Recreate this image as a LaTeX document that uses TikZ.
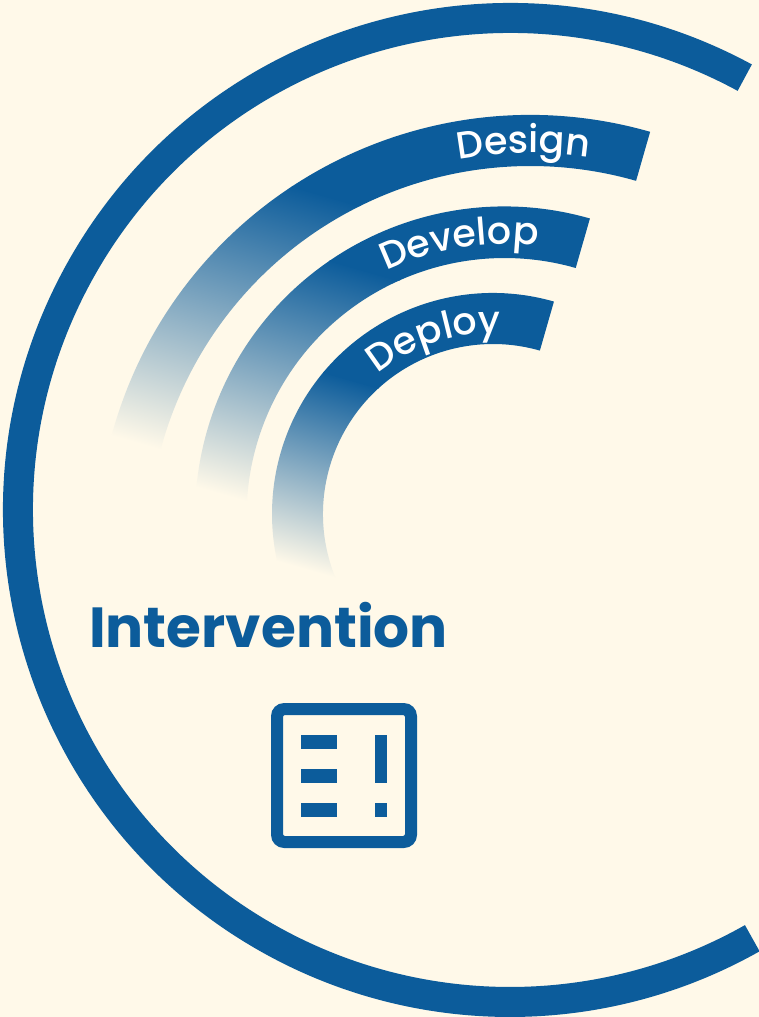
\documentclass[tikz,border=0pt]{standalone}
\usepackage{fontspec}
\setmainfont{Poppins}
\newfontfamily\popmedium{Poppins Medium}
\usetikzlibrary{decorations.text,calc}
\definecolor{brandblue}{HTML}{0C5C9B}
\definecolor{cream}{HTML}{FFF9E9}
\newcommand{\ribbon}[6]{%
  \begin{scope}
    \clip ($(#1,#2)+(-74:#3)$) arc[start angle=-74,end angle=-205,radius=#3]
      -- ($(#1,#2)+(-205:#4)$) arc[start angle=-205,end angle=-74,radius=#4] -- cycle;
    \begin{scope}[transform canvas={rotate=-16}]
      \shade[top color=brandblue,bottom color=cream] (-1500,#5) rectangle (1500,#6);
      \fill[brandblue] (-1500,-1500) rectangle (1500,#5+1);
    \end{scope}
  \end{scope}}
\newcommand{\ribbontext}[5]{%
  \path[decorate,decoration={text along path,text align=center,
      text={|\popmedium\fontsize{38}{38}\selectfont\color{white}|#5}}]
    ($(#1,#2)+(#4-35:#3)$) arc[start angle=#4-35,end angle=#4+35,radius=#3];}
\begin{document}
\begin{tikzpicture}[x=1pt,y=-1pt]
  \useasboundingbox (0,0) rectangle (759,1017);
  \fill[cream] (0,0) rectangle (759,1017);
  % big C
  \draw[brandblue,line width=30pt] ($(510,510)+(-61.5:492)$) arc[start angle=-61.5,end angle=-299.5,radius=492];
  % ribbons
  \ribbon{530.5}{549}{434}{383}{98}{388}
  \ribbon{504.6}{516}{309.5}{258}{159}{414}
  \ribbon{493}{514}{221}{170}{268}{463}
  \ribbontext{530.5}{549}{396}{-91}{Design}
  \ribbontext{504.6}{516}{272}{-99.4}{Develop}
  \ribbontext{493}{514}{181}{-108.5}{Deploy}
  % heading
  \node[anchor=base west,inner sep=0pt,text=brandblue,font=\fontsize{56.5}{57}\selectfont\bfseries] (title) at (89,647) {Intervention};
  % icon
  \fill[brandblue,even odd rule]
    [rounded corners=13pt] (271,703) rectangle (417,848)
    [rounded corners=2pt] (283,715) rectangle (405,836);
  \fill[brandblue] (300.7,735) rectangle (337.3,749);
  \fill[brandblue] (300.7,769.3) rectangle (337.3,782.7);
  \fill[brandblue] (300.7,803.3) rectangle (337.3,817.3);
  \fill[brandblue] (375.3,735) rectangle (387,782.7);
  \fill[brandblue] (375.3,803.3) rectangle (387,817.3);
\end{tikzpicture}
\end{document}
